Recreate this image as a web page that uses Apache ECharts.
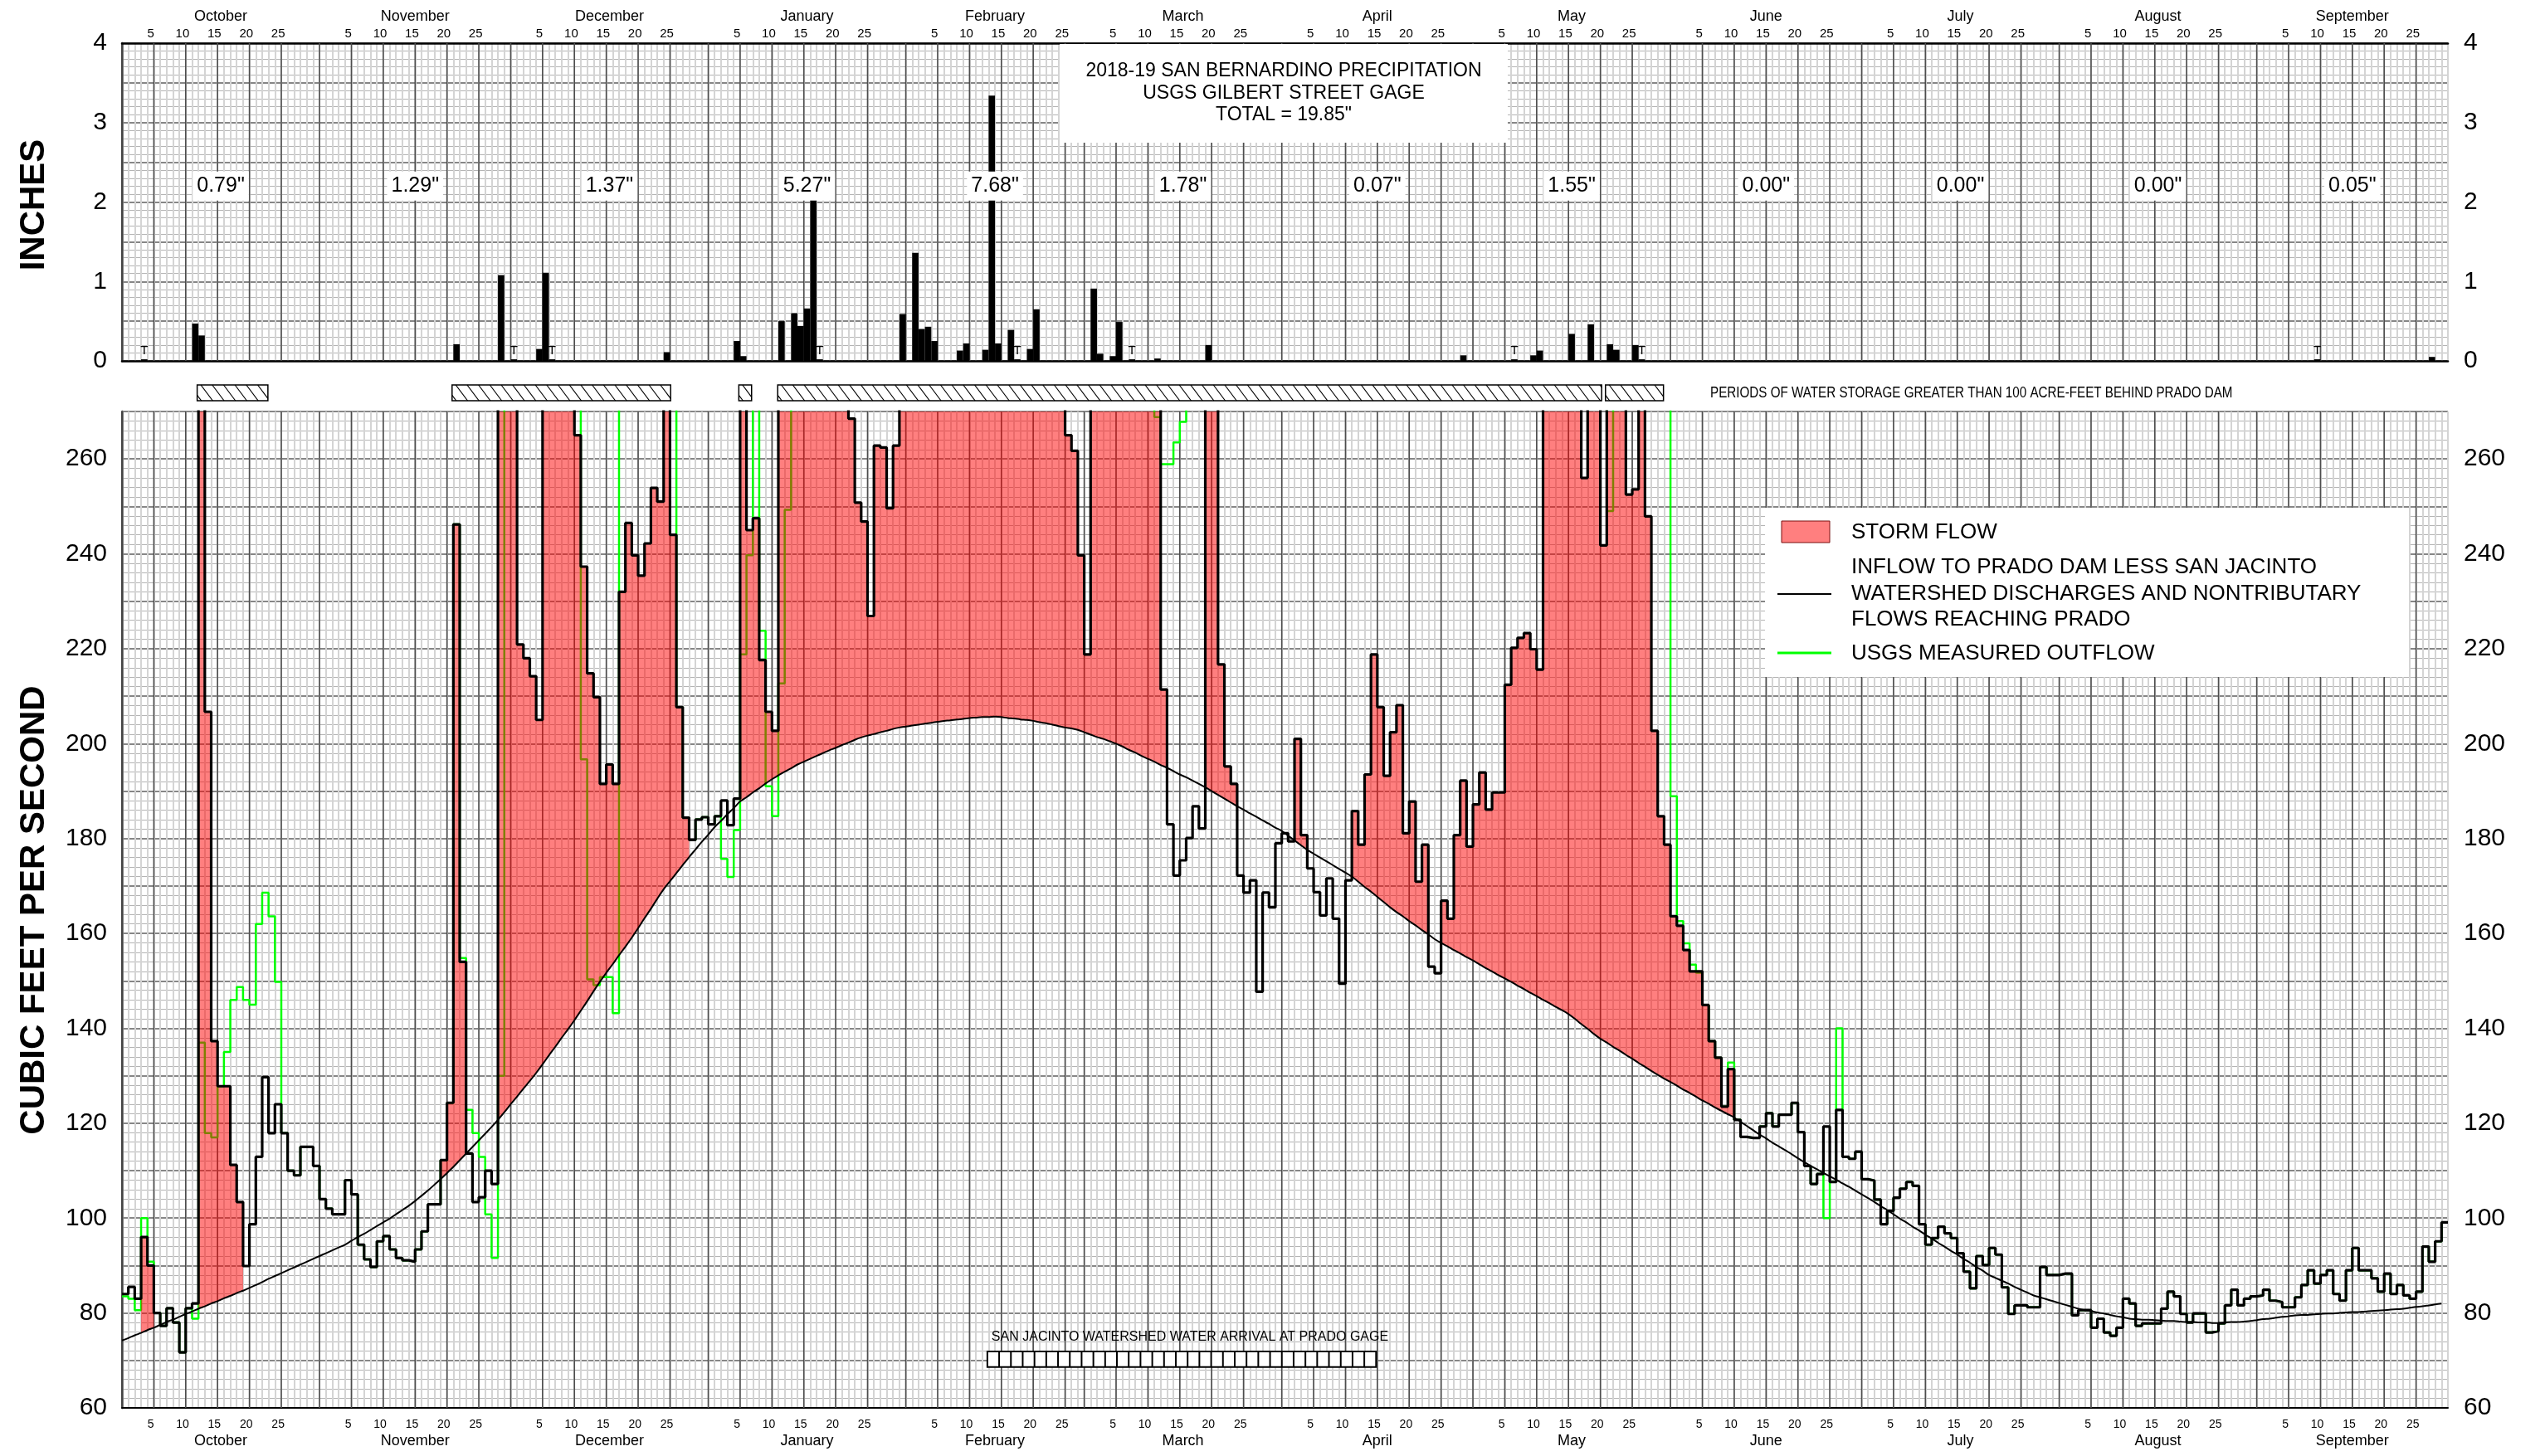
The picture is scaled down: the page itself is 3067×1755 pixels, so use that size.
<!DOCTYPE html>
<html>
<head>
<meta charset="utf-8">
<script src="https://cdn.jsdelivr.net/npm/echarts@6/dist/echarts.min.js"></script>
<style>
  html, body { margin: 0; padding: 0; background: #fff; }
  #main { width: 3067px; height: 1755px; }
</style>
</head>
<body>
<div id="main"></div>
<script>
// water year Oct 2018 - Sep 2019, one value per day
const monthNames = ['October', 'November', 'December', 'January', 'February', 'March',
  'April', 'May', 'June', 'July', 'August', 'September'];
const monthDays = [31, 30, 31, 31, 28, 31, 30, 31, 30, 31, 31, 30];
const monthTotals = ['0.79"', '1.29"', '1.37"', '5.27"', '7.68"', '1.78"', '0.07"', '1.55"', '0.00"', '0.00"', '0.00"', '0.05"'];

// daily rain (inches) at the Gilbert Street gage
const rainDates = ['2018-10-12', '2018-10-13', '2018-11-22', '2018-11-29', '2018-12-05', '2018-12-06', '2018-12-25',
  '2019-01-05', '2019-01-06', '2019-01-12', '2019-01-14', '2019-01-15', '2019-01-16', '2019-01-17', '2019-01-31',
  '2019-02-02', '2019-02-03', '2019-02-04', '2019-02-05', '2019-02-09', '2019-02-10', '2019-02-13', '2019-02-14',
  '2019-02-15', '2019-02-17', '2019-02-20', '2019-02-21', '2019-03-02', '2019-03-03', '2019-03-05', '2019-03-06',
  '2019-03-12', '2019-03-20', '2019-04-29', '2019-05-10', '2019-05-11', '2019-05-16', '2019-05-19', '2019-05-22',
  '2019-05-23', '2019-05-26', '2019-09-28'];
const rainInches = [0.47, 0.32, 0.21, 1.08, 0.15, 1.11, 0.11,
  0.25, 0.06, 0.50, 0.60, 0.44, 0.66, 2.17, 0.59,
  1.36, 0.40, 0.43, 0.25, 0.13, 0.22, 0.14, 3.34,
  0.22, 0.39, 0.15, 0.65, 0.91, 0.09, 0.06, 0.49,
  0.03, 0.20, 0.07, 0.07, 0.13, 0.34, 0.46, 0.21,
  0.14, 0.20, 0.05];
const traceDates = ['2018-10-04', '2018-12-01', '2018-12-07', '2019-01-18', '2019-02-18', '2019-03-08',
  '2019-05-07', '2019-05-27', '2019-09-10'];

// inflow to Prado (cfs), 300 = off the top of the chart
const inflowOct = [84, 85.5, 83, 96, 90, 80, 77.3, 81, 78, 71.7, 81, 82, 300, 206.7, 137.3, 127.8, 127.8, 111.2, 103.4, 89.9, 98.7, 112.9, 129.7, 117.9, 124, 117.9, 110, 109, 115, 115, 111];
const inflowNov = [104, 102, 100.8, 100.8, 108, 105, 94.4, 91.3, 89.7, 95.1, 96.2, 93.4, 91.6, 91.1, 90.8, 93.4, 97.2, 102.9, 102.9, 112.2, 124.3, 246.2, 154, 113.6, 103.4, 104.4, 110, 107.2, 300, 300];
const inflowDec = [300, 220.9, 218, 214.2, 205, 300, 300, 300, 300, 300, 265, 237.3, 214.8, 209.8, 191.5, 195.6, 191.5, 232, 246.5, 239.7, 235.4, 242.2, 253.9, 251, 300, 244, 207.7, 184.4, 179.7, 184, 184.5];
const inflowJan = [183, 184.7, 188, 182.8, 188.4, 300, 245, 247.5, 217.6, 206.7, 202.7, 300, 300, 300, 300, 300, 300, 300, 300, 300, 300, 300, 268.5, 250.8, 246.8, 226.9, 262.8, 262.4, 249.6, 262.8, 300];
const inflowFeb = [300, 300, 300, 300, 300, 300, 300, 300, 300, 300, 300, 300, 300, 300, 300, 300, 300, 300, 300, 300, 300, 300, 300, 300, 300, 265, 261.7, 239.7];
const inflowMar = [218.8, 300, 300, 300, 300, 300, 300, 300, 300, 300, 300, 300, 211.4, 183, 172.2, 175.4, 180.1, 186.8, 182.1, 300, 300, 216.7, 195.2, 191.5, 172.2, 168.6, 171.2, 147.7, 168.6, 165.5, 179];
const inflowApr = [181.1, 179.4, 201, 180.7, 173.7, 168.7, 163.8, 171.6, 163.1, 149.4, 171.2, 185.8, 178.7, 193.5, 218.8, 207.7, 193.2, 202.4, 208.1, 181.1, 187.8, 170.9, 178.7, 153, 151.6, 166.9, 163.1, 180.7, 192.2, 178.3];
const inflowMay = [187.2, 193.9, 186.1, 189.7, 189.7, 212.4, 220.2, 222.3, 223.3, 219.9, 215.6, 300, 300, 300, 300, 300, 300, 256, 300, 300, 241.8, 300, 300, 300, 252.5, 253.6, 300, 247.9, 202.7, 184.7, 178.7];
const inflowJun = [163.6, 161.6, 156.5, 152, 152, 144.9, 137.3, 133.8, 123.5, 131.4, 120.7, 117.1, 116.9, 116.9, 119.3, 122.1, 119.3, 121.8, 121.8, 124.3, 118.1, 111, 107.2, 109.3, 119.3, 107.6, 122.8, 112.9, 112.5, 114];
const inflowJul = [108.2, 107.9, 103.9, 98.7, 101.5, 104.3, 106.2, 107.6, 106.8, 98.7, 94.4, 95.8, 98.2, 96.8, 95.8, 92.6, 88.7, 85.2, 92, 90.1, 93.7, 92.3, 85.4, 79.8, 81.6, 81.6, 81.2, 81.2, 89.7, 88, 88];
const inflowAug = [88.3, 88.3, 79.5, 80.6, 80.6, 76.9, 78.8, 75.9, 75.2, 76.9, 83, 82, 77.3, 77.8, 77.8, 77.8, 80.9, 84.5, 83.5, 79.8, 78, 79.9, 79.9, 75.9, 76.2, 77.8, 81.6, 84.9, 81.6, 83, 83.5];
const inflowSep = [83.7, 84.9, 82.6, 82.3, 81.2, 81.2, 83.3, 85.9, 89, 86.2, 88, 89, 84, 82.6, 89, 93.7, 89, 89, 87.3, 84.5, 88.3, 84, 85.9, 83.7, 83, 84.5, 94, 90.8, 95.1, 99.1];

// USGS measured outflow (cfs); summer months run on top of the inflow trace
const outflowOct = [83.5, 83, 80.6, 100, 90.8, 80, 77.3, 81, 78, 71.7, 81, 78.8, 137, 117.9, 117, 127.8, 135, 146, 148.7, 146, 145, 162, 168.6, 163.6, 149.8, 117.9, 110, 109, 115, 115, 111];
const outflowNov = [104, 102, 100.8, 100.8, 108, 105, 94.4, 91.3, 89.7, 95.1, 96.2, 93.4, 91.6, 91.1, 90.8, 93.4, 97.2, 102.9, 102.9, 112.2, 124.3, 246.2, 154.8, 122.8, 117.9, 112.9, 100.8, 91.6, 130, 300];
const outflowDec = [300, 300, 300, 300, 300, 300, 300, 300, 300, 300, 300, 196.7, 150.3, 149.1, 150.8, 150.8, 143.2, 300, 300, 300, 300, 300, 300, 300, 300, 300, 207.7, 184.4, 179.7, 184, 184.5];
const outflowJan = [183, 184.7, 175.7, 171.9, 181.8, 218.8, 239.7, 300, 223.8, 191, 184.7, 212.7, 249.3, 300, 300, 300, 300, 300, 300, 300, 300, 300, 300, 300, 300, 300, 300, 300, 300, 300, 300];
const outflowFeb = [300, 300, 300, 300, 300, 300, 300, 300, 300, 300, 300, 300, 300, 300, 300, 300, 300, 300, 300, 300, 300, 300, 300, 300, 300, 300, 300, 300];
const outflowMar = [300, 300, 300, 300, 300, 300, 300, 300, 300, 300, 300, 268.8, 258.9, 258.9, 263.5, 267.8, 300, 300, 300, 300, 300, 300, 300, 300, 300, 300, 300, 300, 300, 300, 300];
const outflowApr = [300, 300, 300, 300, 300, 300, 300, 300, 300, 300, 300, 300, 300, 300, 300, 300, 300, 300, 300, 300, 300, 300, 300, 300, 300, 300, 300, 300, 300, 300];
const outflowMay = [300, 300, 300, 300, 300, 300, 300, 300, 300, 300, 300, 300, 300, 300, 300, 300, 300, 300, 300, 300, 300, 249, 300, 300, 300, 300, 300, 300, 300, 300, 300];
const outflowJun = [188.9, 162.6, 157.9, 153.4, 151.7, 144.9, 137.3, 133.8, 123.5, 132.8, 120.7, 117.1, 116.9, 116.9, 119.3, 122.1, 119.3, 121.8, 121.8, 124.3, 118.1, 111, 107.2, 109.3, 100, 107.6, 140, 112.9, 112.5, 114];
const outflowJul = inflowJul;
const outflowAug = inflowAug;
const outflowSep = inflowSep;

// base flow curve (cfs)
const baseOct = [74.2, 74.7, 75.3, 75.8, 76.4, 76.9, 77.5, 78.1, 78.6, 79.2, 79.8, 80.3, 80.9, 81.4, 82.0, 82.5, 83.1, 83.6, 84.2, 84.7, 85.3, 85.9, 86.5, 87.2, 87.8, 88.4, 89.0, 89.6, 90.2, 90.8, 91.4];
const baseNov = [92.0, 92.6, 93.2, 93.8, 94.4, 95.2, 96.0, 96.7, 97.5, 98.3, 99.1, 99.9, 100.8, 101.7, 102.6, 103.6, 104.7, 105.8, 107.0, 108.2, 109.5, 110.8, 112.2, 113.6, 115.0, 116.4, 117.8, 119.2, 120.7, 122.3];
const baseDec = [124.0, 125.6, 127.3, 128.9, 130.6, 132.4, 134.3, 136.1, 138.0, 139.8, 141.7, 143.7, 145.7, 147.8, 149.8, 151.7, 153.5, 155.4, 157.2, 159.1, 161.1, 163.2, 165.2, 167.3, 169.3, 171.0, 172.7, 174.4, 176.1, 177.7, 179.3];
const baseJan = [180.8, 182.4, 183.7, 185.1, 186.4, 187.8, 188.7, 189.7, 190.6, 191.6, 192.5, 193.3, 194.1, 194.8, 195.6, 196.2, 196.8, 197.4, 198.0, 198.6, 199.1, 199.7, 200.2, 200.8, 201.3, 201.7, 202.0, 202.4, 202.7, 203.1, 203.4];
const baseFeb = [203.6, 203.8, 204.0, 204.2, 204.4, 204.6, 204.8, 204.9, 205.1, 205.2, 205.4, 205.5, 205.6, 205.6, 205.7, 205.6, 205.4, 205.3, 205.1, 205.0, 204.8, 204.5, 204.3, 204.0, 203.7, 203.4, 203.2, 202.9];
const baseMar = [202.4, 201.9, 201.4, 201.0, 200.5, 200.0, 199.4, 198.7, 198.1, 197.4, 196.8, 196.2, 195.5, 194.9, 194.2, 193.5, 192.9, 192.2, 191.5, 190.8, 190.0, 189.2, 188.4, 187.6, 186.8, 186.1, 185.3, 184.6, 183.8, 183.1, 182.3];
const baseApr = [181.6, 180.6, 179.6, 178.6, 177.6, 176.8, 176.0, 175.2, 174.4, 173.6, 172.8, 172.0, 170.9, 169.8, 168.8, 167.7, 166.6, 165.5, 164.5, 163.6, 162.6, 161.7, 160.7, 159.8, 158.8, 158.0, 157.3, 156.5, 155.8, 155.0];
const baseMay = [154.3, 153.5, 152.7, 152.0, 151.2, 150.5, 149.8, 149.0, 148.3, 147.5, 146.8, 146.0, 145.3, 144.5, 143.8, 143.0, 142.0, 140.9, 139.9, 138.8, 137.8, 137.0, 136.1, 135.3, 134.4, 133.6, 132.7, 131.9, 131.0, 130.2, 129.4];
const baseJun = [128.7, 127.9, 127.1, 126.4, 125.6, 124.8, 124.1, 123.3, 122.6, 121.9, 121.2, 120.3, 119.4, 118.5, 117.6, 116.8, 115.9, 115.1, 114.3, 113.5, 112.6, 111.8, 111.0, 110.3, 109.5, 108.8, 108.1, 107.3, 106.6, 105.8];
const baseJul = [105.0, 104.2, 103.4, 102.5, 101.7, 100.8, 99.9, 99.1, 98.2, 97.4, 96.5, 95.7, 94.8, 94.0, 93.1, 92.3, 91.4, 90.6, 89.7, 88.9, 88.0, 87.4, 86.8, 86.2, 85.5, 84.9, 84.3, 83.7, 83.3, 82.9, 82.5];
const baseAug = [82.1, 81.7, 81.3, 80.9, 80.6, 80.4, 80.1, 79.9, 79.6, 79.3, 79.1, 78.8, 78.7, 78.6, 78.6, 78.5, 78.4, 78.3, 78.3, 78.2, 78.1, 78.1, 78.0, 78.0, 77.9, 77.9, 78.0, 78.1, 78.1, 78.2, 78.3];
const baseSep = [78.5, 78.7, 78.8, 79.0, 79.2, 79.3, 79.5, 79.6, 79.6, 79.7, 79.8, 79.9, 79.9, 80.0, 80.1, 80.2, 80.2, 80.3, 80.4, 80.5, 80.6, 80.7, 80.8, 80.9, 81.1, 81.3, 81.4, 81.6, 81.8, 82.0];

// storm periods (day index from Oct 1, inclusive) where the flow above base is shaded
const stormPeriods = [[3, 4], [12, 18], [50, 53], [59, 88], [97, 174], [184, 252]];
// periods of storage > 100 AF behind Prado (day index, fractional)
const storagePeriods = [[11.8, 22.9], [51.8, 86.1], [96.8, 98.8], [102.9, 232.2], [232.8, 241.9]];
// San Jacinto watershed water arrival at Prado gage
const sanJacinto = [135.8, 196.8];

const inflow = [].concat(inflowOct, inflowNov, inflowDec, inflowJan, inflowFeb, inflowMar, inflowApr, inflowMay, inflowJun, inflowJul, inflowAug, inflowSep);
const outflow = [].concat(outflowOct, outflowNov, outflowDec, outflowJan, outflowFeb, outflowMar, outflowApr, outflowMay, outflowJun, outflowJul, outflowAug, outflowSep);
const base = [].concat(baseOct, baseNov, baseDec, baseJan, baseFeb, baseMar, baseApr, baseMay, baseJun, baseJul, baseAug, baseSep);

const FONT = "'Liberation Sans', Arial, sans-serif";
const Y_TOP = 270;

const monthStart = [];
let total = 0;
monthDays.forEach(n => { monthStart.push(total); total += n; });
const DAYS = total;

function dayIndex(s) {
  const t = Date.UTC(+s.slice(0, 4), +s.slice(5, 7) - 1, +s.slice(8, 10));
  return Math.round((t - Date.UTC(2018, 9, 1)) / 86400000);
}

// step lines: each day spans [i, i+1]
function stepData(arr) {
  const d = arr.map((v, i) => [i, v]);
  d.push([arr.length, arr[arr.length - 1]]);
  return d;
}

// dark grid lines: month starts and after day 5,10,...,25
const majorX = [];
monthStart.forEach((s, m) => {
  if (m > 0) majorX.push([s]);
  [5, 10, 15, 20, 25].forEach(k => majorX.push([s + k]));
});

const dayTickVals = [];
const dayTickText = {};
monthStart.forEach(s => [5, 10, 15, 20, 25].forEach(k => {
  const v = s + k - 0.5;
  dayTickVals.push(v);
  dayTickText[v] = String(k);
}));
const monthMidVals = [];
const monthMidText = {};
monthStart.forEach((s, m) => {
  const v = s + monthDays[m] / 2;
  monthMidVals.push(v);
  monthMidText[v] = monthNames[m];
});

// runs of days inside storm periods where inflow is above base
const stormRuns = [];
stormPeriods.forEach(([a, b]) => {
  let start = -1;
  for (let i = a; i <= b + 1; i++) {
    const on = i <= b && inflow[i] > base[i];
    if (on && start < 0) start = i;
    if (!on && start >= 0) { stormRuns.push([start, i - 1]); start = -1; }
  }
});

const rainData = rainDates.map((d, i) => [dayIndex(d), rainInches[i]]);
const traceData = traceDates.map(d => [dayIndex(d)]);
const totalsData = monthTotals.map((t, m) => [monthStart[m] + monthDays[m] / 2, 2.2, t]);

function vGrid(yMin, yMax) {
  return function (params, api) {
    const x = api.value(0);
    const p0 = api.coord([x, yMin]);
    const p1 = api.coord([x, yMax]);
    return {
      type: 'line',
      shape: { x1: p0[0], y1: p0[1], x2: p1[0], y2: p1[1] },
      style: { stroke: '#4d4d4d', lineWidth: 1.6 }
    };
  };
}

const chart = echarts.init(document.getElementById('main'));

const lightV = { show: true, lineStyle: { color: '#d4d4d4', width: 2 } };
const darkH = { show: true, lineStyle: { color: '#5e5e5e', width: 1.5 } };
const lightH = { show: true, lineStyle: { color: '#b4b4b4', width: 1 } };
const labelAxis = { type: 'value', min: 0, max: DAYS, axisLine: { show: false }, axisTick: { show: false }, splitLine: { show: false } };

const option = {
  animation: false,
  backgroundColor: '#fff',
  grid: [
    { left: 147, right: 117, top: 52, height: 383 },
    { left: 147, right: 117, top: 496, height: 1201 },
    { left: 147, right: 117, top: 464, height: 19 }
  ],
  xAxis: [
    // top panel: daily grid + bottom border
    { gridIndex: 0, type: 'value', min: 0, max: DAYS, interval: 1, position: 'bottom',
      axisLine: { show: true, onZero: false, lineStyle: { color: '#000', width: 2.5 } },
      axisTick: { show: false }, axisLabel: { show: false }, splitLine: lightV },
    Object.assign({}, labelAxis, { gridIndex: 0, position: 'top',
      axisLine: { show: true, onZero: false, lineStyle: { color: '#000', width: 2.5 } },
      axisLabel: { customValues: dayTickVals, formatter: v => dayTickText[v] || '', margin: 4,
        fontSize: 15, color: '#000', fontFamily: FONT } }),
    Object.assign({}, labelAxis, { gridIndex: 0, position: 'top',
      axisLabel: { customValues: monthMidVals, formatter: v => monthMidText[v] || '', margin: 23,
        fontSize: 18, color: '#000', fontFamily: FONT } }),
    // bottom panel
    { gridIndex: 1, type: 'value', min: 0, max: DAYS, interval: 1, position: 'top',
      axisLine: { show: false }, axisTick: { show: false }, axisLabel: { show: false }, splitLine: lightV },
    Object.assign({}, labelAxis, { gridIndex: 1, position: 'bottom',
      axisLine: { show: true, onZero: false, lineStyle: { color: '#000', width: 2 } },
      axisLabel: { customValues: dayTickVals, formatter: v => dayTickText[v] || '', margin: 13,
        fontSize: 14, color: '#000', fontFamily: FONT } }),
    Object.assign({}, labelAxis, { gridIndex: 1, position: 'bottom',
      axisLabel: { customValues: monthMidVals, formatter: v => monthMidText[v] || '', margin: 31,
        fontSize: 18, color: '#000', fontFamily: FONT } }),
    // storage strip
    { gridIndex: 2, type: 'value', min: 0, max: DAYS, show: false }
  ],
  yAxis: [
    { gridIndex: 0, type: 'value', min: 0, max: 4, interval: 0.5, position: 'left',
      axisLine: { show: true, lineStyle: { color: '#7a7a7a', width: 3 } }, axisTick: { show: false },
      axisLabel: { formatter: v => (Math.abs(v - Math.round(v)) < 1e-6 ? String(Math.round(v)) : ''),
        fontSize: 30, color: '#000', fontFamily: FONT, margin: 18 },
      splitLine: darkH, minorTick: { show: false, splitNumber: 5 }, minorSplitLine: lightH },
    { gridIndex: 0, type: 'value', min: 0, max: 4, interval: 0.5, position: 'right',
      axisLine: { show: true, lineStyle: { color: '#333', width: 1.5 } }, axisTick: { show: false },
      axisLabel: { formatter: v => (Math.abs(v - Math.round(v)) < 1e-6 ? String(Math.round(v)) : ''),
        fontSize: 30, color: '#000', fontFamily: FONT, margin: 19 },
      splitLine: { show: false } },
    { gridIndex: 1, type: 'value', min: 60, max: Y_TOP, interval: 10, position: 'left',
      axisLine: { show: true, lineStyle: { color: '#7a7a7a', width: 3 } }, axisTick: { show: false },
      axisLabel: { formatter: v => ((v - 60) % 20 === 0 && v < Y_TOP ? String(v) : ''),
        fontSize: 30, color: '#000', fontFamily: FONT, margin: 18 },
      splitLine: darkH, minorTick: { show: false, splitNumber: 5 }, minorSplitLine: lightH },
    { gridIndex: 1, type: 'value', min: 60, max: Y_TOP, interval: 10, position: 'right',
      axisLine: { show: true, lineStyle: { color: '#333', width: 1.5 } }, axisTick: { show: false },
      axisLabel: { formatter: v => ((v - 60) % 20 === 0 && v < Y_TOP ? String(v) : ''),
        fontSize: 30, color: '#000', fontFamily: FONT, margin: 19 },
      splitLine: { show: false } },
    { gridIndex: 2, type: 'value', min: 0, max: 1, show: false }
  ],
  series: [
    { type: 'custom', name: 'grid-top', xAxisIndex: 0, yAxisIndex: 0, z: 1, silent: true,
      data: majorX, renderItem: vGrid(0, 4) },
    { type: 'custom', name: 'grid-bottom', xAxisIndex: 3, yAxisIndex: 2, z: 1, silent: true,
      data: majorX, renderItem: vGrid(60, Y_TOP) },
    // daily rain bars
    { type: 'custom', name: 'rain', xAxisIndex: 0, yAxisIndex: 0, z: 3, data: rainData,
      renderItem: (params, api) => {
        const p0 = api.coord([api.value(0), api.value(1)]);
        const p1 = api.coord([api.value(0) + 1, 0]);
        return { type: 'rect', shape: { x: p0[0], y: p0[1], width: p1[0] - p0[0], height: p1[1] - p0[1] },
          style: { fill: '#000' } };
      } },
    // trace amounts
    { type: 'custom', name: 'trace', xAxisIndex: 0, yAxisIndex: 0, z: 3, data: traceData,
      renderItem: (params, api) => {
        const d = api.value(0);
        const p0 = api.coord([d, 0.02]);
        const p1 = api.coord([d + 1, 0]);
        return { type: 'group', children: [
          { type: 'rect', shape: { x: p0[0], y: p0[1], width: p1[0] - p0[0], height: p1[1] - p0[1] }, style: { fill: '#000' } },
          { type: 'text', style: { text: 'T', x: (p0[0] + p1[0]) / 2, y: p0[1] - 3, align: 'center', verticalAlign: 'bottom',
            font: '15px ' + FONT, fill: '#000' } }
        ] };
      } },
    // monthly totals
    { type: 'custom', name: 'totals', xAxisIndex: 0, yAxisIndex: 0, z: 6, data: totalsData,
      renderItem: (params, api) => {
        const p = api.coord([api.value(0), api.value(1)]);
        return { type: 'text', style: { text: totalsData[params.dataIndex][2], x: p[0], y: p[1],
          align: 'center', verticalAlign: 'middle', font: '25px ' + FONT, fill: '#000',
          backgroundColor: '#fff', padding: [6, 5, 4, 5] } };
      } },
    // storage periods (hatched)
    { type: 'custom', name: 'storage', xAxisIndex: 6, yAxisIndex: 4, z: 3, data: storagePeriods,
      renderItem: (params, api) => {
        const p0 = api.coord([api.value(0), 1]);
        const p1 = api.coord([api.value(1), 0]);
        const x0 = p0[0], y0 = p0[1], x1 = p1[0], y1 = p1[1];
        const h = y1 - y0, dx = h * 0.75, gap = 13.7;
        const children = [{ type: 'rect', shape: { x: x0, y: y0, width: x1 - x0, height: h },
          style: { fill: '#fff', stroke: '#000', lineWidth: 1.5 } }];
        for (let x = x0 - dx + 5; x < x1; x += gap) {
          let ax = x, ay = y0, bx = x + dx, by = y1;
          if (ax < x0) { ay = y0 + (x0 - x) / dx * h; ax = x0; }
          if (bx > x1) { by = y0 + (x1 - x) / dx * h; bx = x1; }
          if (by - ay < 1) continue;
          children.push({ type: 'line', shape: { x1: ax, y1: ay, x2: bx, y2: by }, style: { stroke: '#000', lineWidth: 1.2 } });
        }
        return { type: 'group', children };
      } },
    // outflow
    { type: 'line', name: 'USGS MEASURED OUTFLOW', xAxisIndex: 3, yAxisIndex: 2, z: 2,
      data: stepData(outflow), step: 'end', symbol: 'none',
      lineStyle: { color: '#00ff00', width: 2.5 } },
    // storm flow shading
    { type: 'custom', name: 'STORM FLOW', xAxisIndex: 3, yAxisIndex: 2, z: 3, data: stormRuns,
      renderItem: (params, api) => {
        const a = api.value(0), b = api.value(1);
        const pts = [];
        for (let i = a; i <= b; i++) {
          const t = Math.min(inflow[i], Y_TOP);
          pts.push(api.coord([i, t]), api.coord([i + 1, t]));
        }
        for (let i = b + 1; i >= a; i--) pts.push(api.coord([i, base[Math.min(i, DAYS - 1)]]));
        return { type: 'polygon', shape: { points: pts }, style: { fill: 'rgba(255,0,0,0.5)' } };
      } },
    // base flow curve
    { type: 'line', name: 'base', xAxisIndex: 3, yAxisIndex: 2, z: 4,
      data: base.map((v, i) => [i, v]), smooth: 0.3, symbol: 'none',
      lineStyle: { color: '#000', width: 2 } },
    // inflow
    { type: 'line', name: 'INFLOW', xAxisIndex: 3, yAxisIndex: 2, z: 5,
      data: stepData(inflow), step: 'end', symbol: 'none',
      lineStyle: { color: '#000', width: 3.2 } },
    // San Jacinto arrival bar
    { type: 'custom', name: 'sanJacinto', xAxisIndex: 3, yAxisIndex: 2, z: 6, data: [sanJacinto],
      renderItem: (params, api) => {
        const p0 = api.coord([api.value(0), 71.9]);
        const p1 = api.coord([api.value(1), 68.6]);
        const n = 33;
        const children = [
          { type: 'rect', shape: { x: p0[0], y: p0[1], width: p1[0] - p0[0], height: p1[1] - p0[1] },
            style: { fill: '#fff', stroke: '#000', lineWidth: 2 } }
        ];
        for (let k = 1; k < n; k++) {
          const x = p0[0] + k * (p1[0] - p0[0]) / n;
          children.push({ type: 'line', shape: { x1: x, y1: p0[1], x2: x, y2: p1[1] }, style: { stroke: '#000', lineWidth: 2 } });
        }
        const pt = api.coord([api.value(0), 74.9]);
        children.push({ type: 'text', style: { text: 'SAN JACINTO WATERSHED WATER ARRIVAL AT PRADO GAGE',
          x: pt[0] + 5, y: pt[1], align: 'left', verticalAlign: 'middle', font: '16px ' + FONT, fill: '#000' } });
        return { type: 'group', children };
      } }
  ],
  graphic: { elements: [
    { type: 'text', x: 41, y: 247, rotation: Math.PI / 2, z: 10,
      style: { text: 'INCHES', font: 'bold 42px ' + FONT, fill: '#000', align: 'center', verticalAlign: 'middle' } },
    { type: 'text', x: 41, y: 1097, rotation: Math.PI / 2, z: 10,
      style: { text: 'CUBIC FEET PER SECOND', font: 'bold 42px ' + FONT, fill: '#000', align: 'center', verticalAlign: 'middle' } },
    // title box
    { type: 'rect', z: 10, shape: { x: 1277, y: 53, width: 540, height: 119 }, style: { fill: '#fff' } },
    { type: 'text', z: 11, x: 1547, y: 86, style: { text: '2018-19 SAN BERNARDINO PRECIPITATION', font: '23px ' + FONT, fill: '#000', align: 'center', verticalAlign: 'middle' } },
    { type: 'text', z: 11, x: 1547, y: 113, style: { text: 'USGS GILBERT STREET GAGE', font: '23px ' + FONT, fill: '#000', align: 'center', verticalAlign: 'middle' } },
    { type: 'text', z: 11, x: 1547, y: 139, style: { text: 'TOTAL = 19.85"', font: '23px ' + FONT, fill: '#000', align: 'center', verticalAlign: 'middle' } },
    // storage note
    { type: 'text', z: 10, x: 2061, y: 474, scaleX: 0.8,
      style: { text: 'PERIODS OF WATER STORAGE GREATER THAN 100 ACRE-FEET BEHIND PRADO DAM', font: '19px ' + FONT, fill: '#000', verticalAlign: 'middle' } },
    // legend
    { type: 'rect', z: 10, shape: { x: 2127, y: 612, width: 776, height: 204 }, style: { fill: '#fff' } },
    { type: 'rect', z: 11, shape: { x: 2147, y: 628, width: 58, height: 26 }, style: { fill: 'rgba(255,0,0,0.5)', stroke: '#7a1010', lineWidth: 1 } },
    { type: 'text', z: 11, x: 2231, y: 642, style: { text: 'STORM FLOW', font: '26px ' + FONT, fill: '#000', verticalAlign: 'middle' } },
    { type: 'line', z: 11, shape: { x1: 2142, y1: 716, x2: 2207, y2: 716 }, style: { stroke: '#000', lineWidth: 2 } },
    { type: 'text', z: 11, x: 2231, y: 684, style: { text: 'INFLOW TO PRADO DAM LESS SAN JACINTO', font: '26px ' + FONT, fill: '#000', verticalAlign: 'middle' } },
    { type: 'text', z: 11, x: 2231, y: 716, style: { text: 'WATERSHED DISCHARGES AND NONTRIBUTARY', font: '26px ' + FONT, fill: '#000', verticalAlign: 'middle' } },
    { type: 'text', z: 11, x: 2231, y: 747, style: { text: 'FLOWS REACHING PRADO', font: '26px ' + FONT, fill: '#000', verticalAlign: 'middle' } },
    { type: 'line', z: 11, shape: { x1: 2142, y1: 787, x2: 2207, y2: 787 }, style: { stroke: '#00ff00', lineWidth: 3 } },
    { type: 'text', z: 11, x: 2231, y: 788, style: { text: 'USGS MEASURED OUTFLOW', font: '26px ' + FONT, fill: '#000', verticalAlign: 'middle' } }
  ] }
};

chart.setOption(option);
</script>
</body>
</html>
